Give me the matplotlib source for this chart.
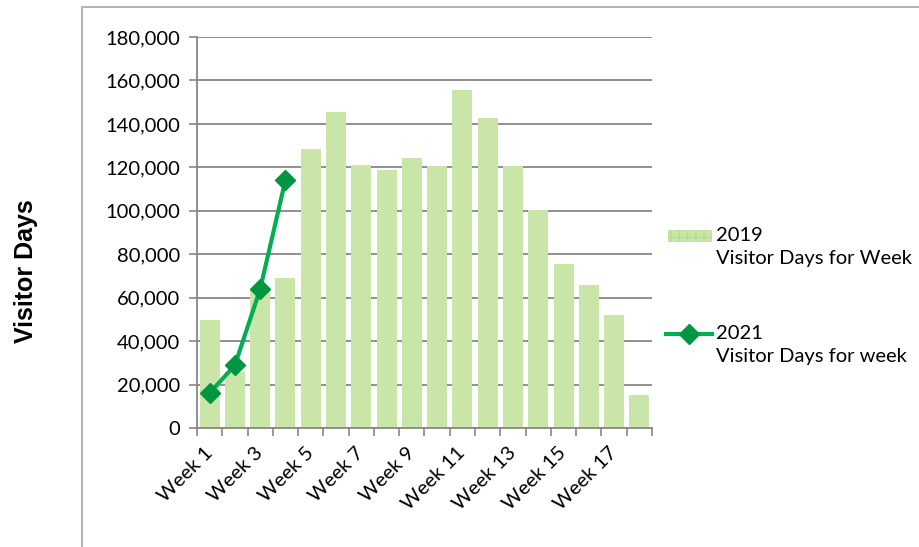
import numpy as np
import matplotlib
matplotlib.use('Agg')
import matplotlib.pyplot as plt
from matplotlib.patches import Rectangle
from matplotlib.lines import Line2D
from matplotlib.ticker import FuncFormatter

# data
weeks = ['Week %d' % i for i in range(1, 19)]
days_2019 = [49700, 25900, 64000, 68900, 128400, 145500, 120900, 118900, 124200,
             120500, 155600, 142900, 120800, 100200, 75600, 65800, 51900, 15200]
days_2021 = [16100, 28900, 64000, 114200]

bar_col = '#C9E6A8'
line_col = '#00B050'
mark_col = '#00953F'
grid_col = '#878787'

plt.rcParams['font.family'] = ['Lato', 'DejaVu Sans']

fig = plt.figure(figsize=(9.2, 5.47), dpi=100)
ax = fig.add_axes([197 / 920, 1 - 428 / 547, (652 - 197) / 920, (428 - 37) / 547])

x = np.arange(len(weeks))
ax.bar(x, days_2019, width=0.79, color=bar_col, zorder=2)
ax.plot(np.arange(len(days_2021)), days_2021, color=line_col, lw=3.0,
        marker='D', ms=10, mfc=mark_col, mec=mark_col, zorder=3)

ax.set_xlim(-0.5, len(weeks) - 0.5)
ax.set_ylim(0, 180000)
ax.set_yticks(np.arange(0, 180001, 20000))
ax.yaxis.set_major_formatter(FuncFormatter(lambda v, p: f'{int(v):,}'))
ax.grid(axis='y', color=grid_col, lw=1.3, zorder=1)
ax.set_axisbelow(True)

# category boundary ticks, labels on every other week
ax.set_xticks(np.arange(-0.5, len(weeks), 1))
ax.set_xticklabels([])
ax.set_xticks(x[::2], minor=True)
ax.set_xticklabels(weeks[::2], minor=True, rotation=45, ha='right',
                   va='center', rotation_mode='anchor', fontsize=14.5)
ax.tick_params(axis='x', which='major', length=6, color=grid_col, width=1.2)
ax.tick_params(axis='x', which='minor', length=0, pad=16)
ax.tick_params(axis='y', length=6, color=grid_col, width=1.2, labelsize=14.5, pad=6)

for s in ['top', 'right']:
    ax.spines[s].set_visible(False)
for s in ['left', 'bottom']:
    ax.spines[s].set_color(grid_col)
    ax.spines[s].set_linewidth(1.3)

# chart area border
fig.add_artist(Rectangle((82 / 920, -0.1), 1.0, 1.1 - 7 / 547, transform=fig.transFigure,
                         fill=False, ec='#A6A6A6', lw=1.2))

fig.text(26 / 920, 1 - 271 / 547, 'Visitor Days', rotation=90, ha='center', va='center',
         fontsize=18, fontweight='bold', family='Liberation Sans')

# legend drawn by hand to keep the two-line labels
fig.add_artist(Rectangle((668 / 920, 1 - 242 / 547), 44 / 920, 12 / 547,
                         transform=fig.transFigure, fc=bar_col, ec='#B5DD8E',
                         hatch='++', lw=0))
fig.add_artist(Line2D([666 / 920, 712 / 920], [1 - 334 / 547] * 2,
                      transform=fig.transFigure, color=line_col, lw=3.0))
fig.add_artist(Line2D([689 / 920], [1 - 334 / 547], transform=fig.transFigure,
                      marker='D', ms=10, mfc=mark_col, mec=mark_col, lw=0))
fig.text(716 / 920, 1 - 227 / 547, '2019\nVisitor Days for Week', ha='left', va='top',
         fontsize=14.5, linespacing=1.4)
fig.text(716 / 920, 1 - 325 / 547, '2021\nVisitor Days for week', ha='left', va='top',
         fontsize=14.5, linespacing=1.4)

fig.savefig('out.png', dpi=100)
